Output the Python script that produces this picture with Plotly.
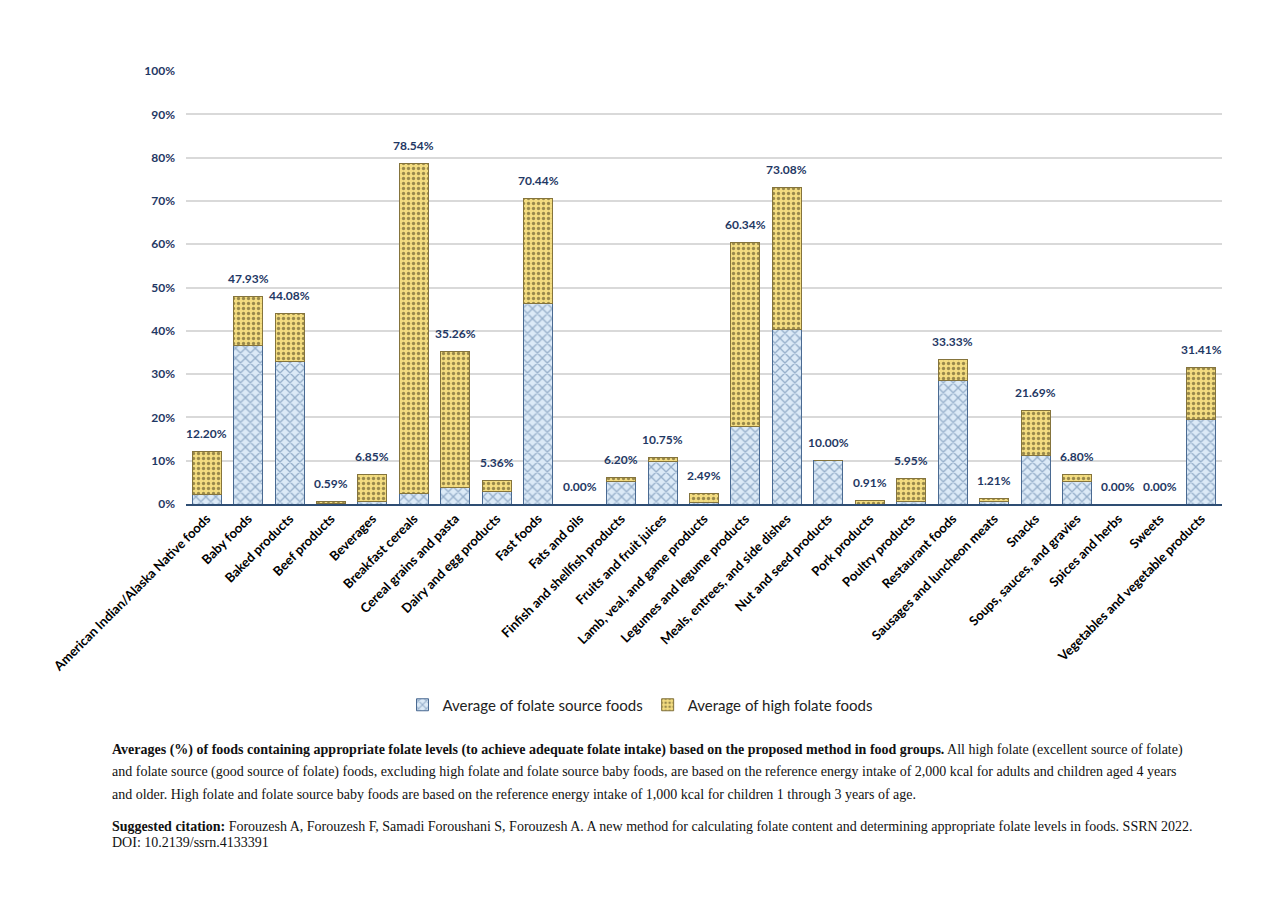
import plotly.graph_objects as go

categories = [
    "American Indian/Alaska Native foods", "Baby foods", "Baked products", "Beef products",
    "Beverages", "Breakfast cereals", "Cereal grains and pasta", "Dairy and egg products",
    "Fast foods", "Fats and oils", "Finfish and shellfish products", "Fruits and fruit juices",
    "Lamb, veal, and game products", "Legumes and legume products",
    "Meals, entrees, and side dishes", "Nut and seed products", "Pork products",
    "Poultry products", "Restaurant foods", "Sausages and luncheon meats", "Snacks",
    "Soups, sauces, and gravies", "Spices and herbs", "Sweets",
    "Vegetables and vegetable products",
]
# totals as printed on top of each bar
totals = [12.20, 47.93, 44.08, 0.59, 6.85, 78.54, 35.26, 5.36, 70.44, 0.00, 6.20, 10.75,
          2.49, 60.34, 73.08, 10.00, 0.91, 5.95, 33.33, 1.21, 21.69, 6.80, 0.00, 0.00, 31.41]
# folate source part
source = [2.2, 36.5, 33.0, 0.2, 0.5, 2.5, 3.9, 2.9, 46.3, 0.0, 5.2, 9.8,
          0.4, 18.0, 40.3, 10.0, 0.0, 0.5, 28.5, 0.6, 11.3, 5.3, 0.0, 0.0, 19.6]
high = [round(t - s, 2) for t, s in zip(totals, source)]
y_ticks = list(range(0, 101, 10))

# page has an 8px body margin; plot area in page pixels
OFF = 8
L, R, T, B = 186 - OFF, 1222 - OFF, 71 - OFF, 504 - OFF


def px(x=None, y=None):
    if x is not None:
        return (x - OFF - L) / (R - L)
    return (B - (y - OFF)) / (B - T)


navy = "#1f3864"

fig = go.Figure()
fig.add_trace(go.Bar(
    x=categories, y=source, name="Average of folate source foods",
    marker=dict(color="#dceaf7", line=dict(color="#4a6a92", width=1),
                pattern=dict(shape="x", bgcolor="#dceaf7", fgcolor="#4d719c",
                             size=7, solidity=0.35)),
    hoverinfo="x+y",
))
fig.add_trace(go.Bar(
    x=categories, y=high, name="Average of high folate foods",
    marker=dict(color="#f3dc80", line=dict(color="#85743c", width=1),
                pattern=dict(shape=".", bgcolor="#f3dc80", fgcolor="#3f3515",
                             size=5, solidity=0.35)),
    hoverinfo="x+y",
))

for c, v in zip(categories, totals):
    fig.add_annotation(
        x=c, y=v, text=f"{v:.2f}%", showarrow=False, yshift=18, yanchor="middle",
        font=dict(family="Lato", size=12, color=navy, weight="bold"),
    )

caption = [
    ("<b>Averages (%) of foods containing appropriate folate levels (to achieve adequate folate intake) "
     "based on the proposed method in food groups.</b> All high folate (excellent source of folate)", 750),
    ("and folate source (good source of folate) foods, excluding high folate and folate source baby foods, "
     "are based on the reference energy intake of 2,000 kcal for adults and children aged 4 years", 772),
    ("and older. High folate and folate source baby foods are based on the reference energy intake of "
     "1,000 kcal for children 1 through 3 years of age.", 794),
    ("<b>Suggested citation:</b> Forouzesh A, Forouzesh F, Samadi Foroushani S, Forouzesh A. A new method "
     "for calculating folate content and determining appropriate folate levels in foods. SSRN 2022.", 826),
    ("DOI: 10.2139/ssrn.4133391", 842),
]
for txt, ypix in caption:
    fig.add_annotation(
        text=txt, xref="paper", yref="paper", x=px(x=110), y=px(y=ypix),
        xanchor="left", yanchor="middle", showarrow=False, align="left",
        font=dict(family="Liberation Serif", size=14, color="#111111"),
    )

fig.update_layout(
    width=1280, height=905,
    barmode="stack", bargap=0.3,
    plot_bgcolor="white", paper_bgcolor="white",
    margin=dict(l=L, r=1280 - R, t=T, b=905 - B, pad=0),
    font=dict(family="Lato"),
    legend=dict(orientation="h", x=px(x=640), xanchor="center", y=px(y=705), yanchor="middle",
                font=dict(family="Lato", size=15, color="#222222"), itemwidth=30,
                traceorder="normal"),
    xaxis=dict(tickangle=-45, tickfont=dict(family="Lato", size=13, color="black", weight="bold"),
               showline=True, linecolor="#2e4d73", linewidth=2, ticks="",
               range=[-0.5, len(categories) - 0.5]),
    yaxis=dict(range=[0, 100], tickvals=y_ticks, ticktext=[f"{v}%" for v in y_ticks],
               tickfont=dict(family="Lato", size=12, color=navy, weight="bold"),
               showgrid=True, gridcolor="#d9d9d9", gridwidth=1.5, zeroline=False,
               ticklabelstandoff=10),
)

fig.write_html("out.html")
